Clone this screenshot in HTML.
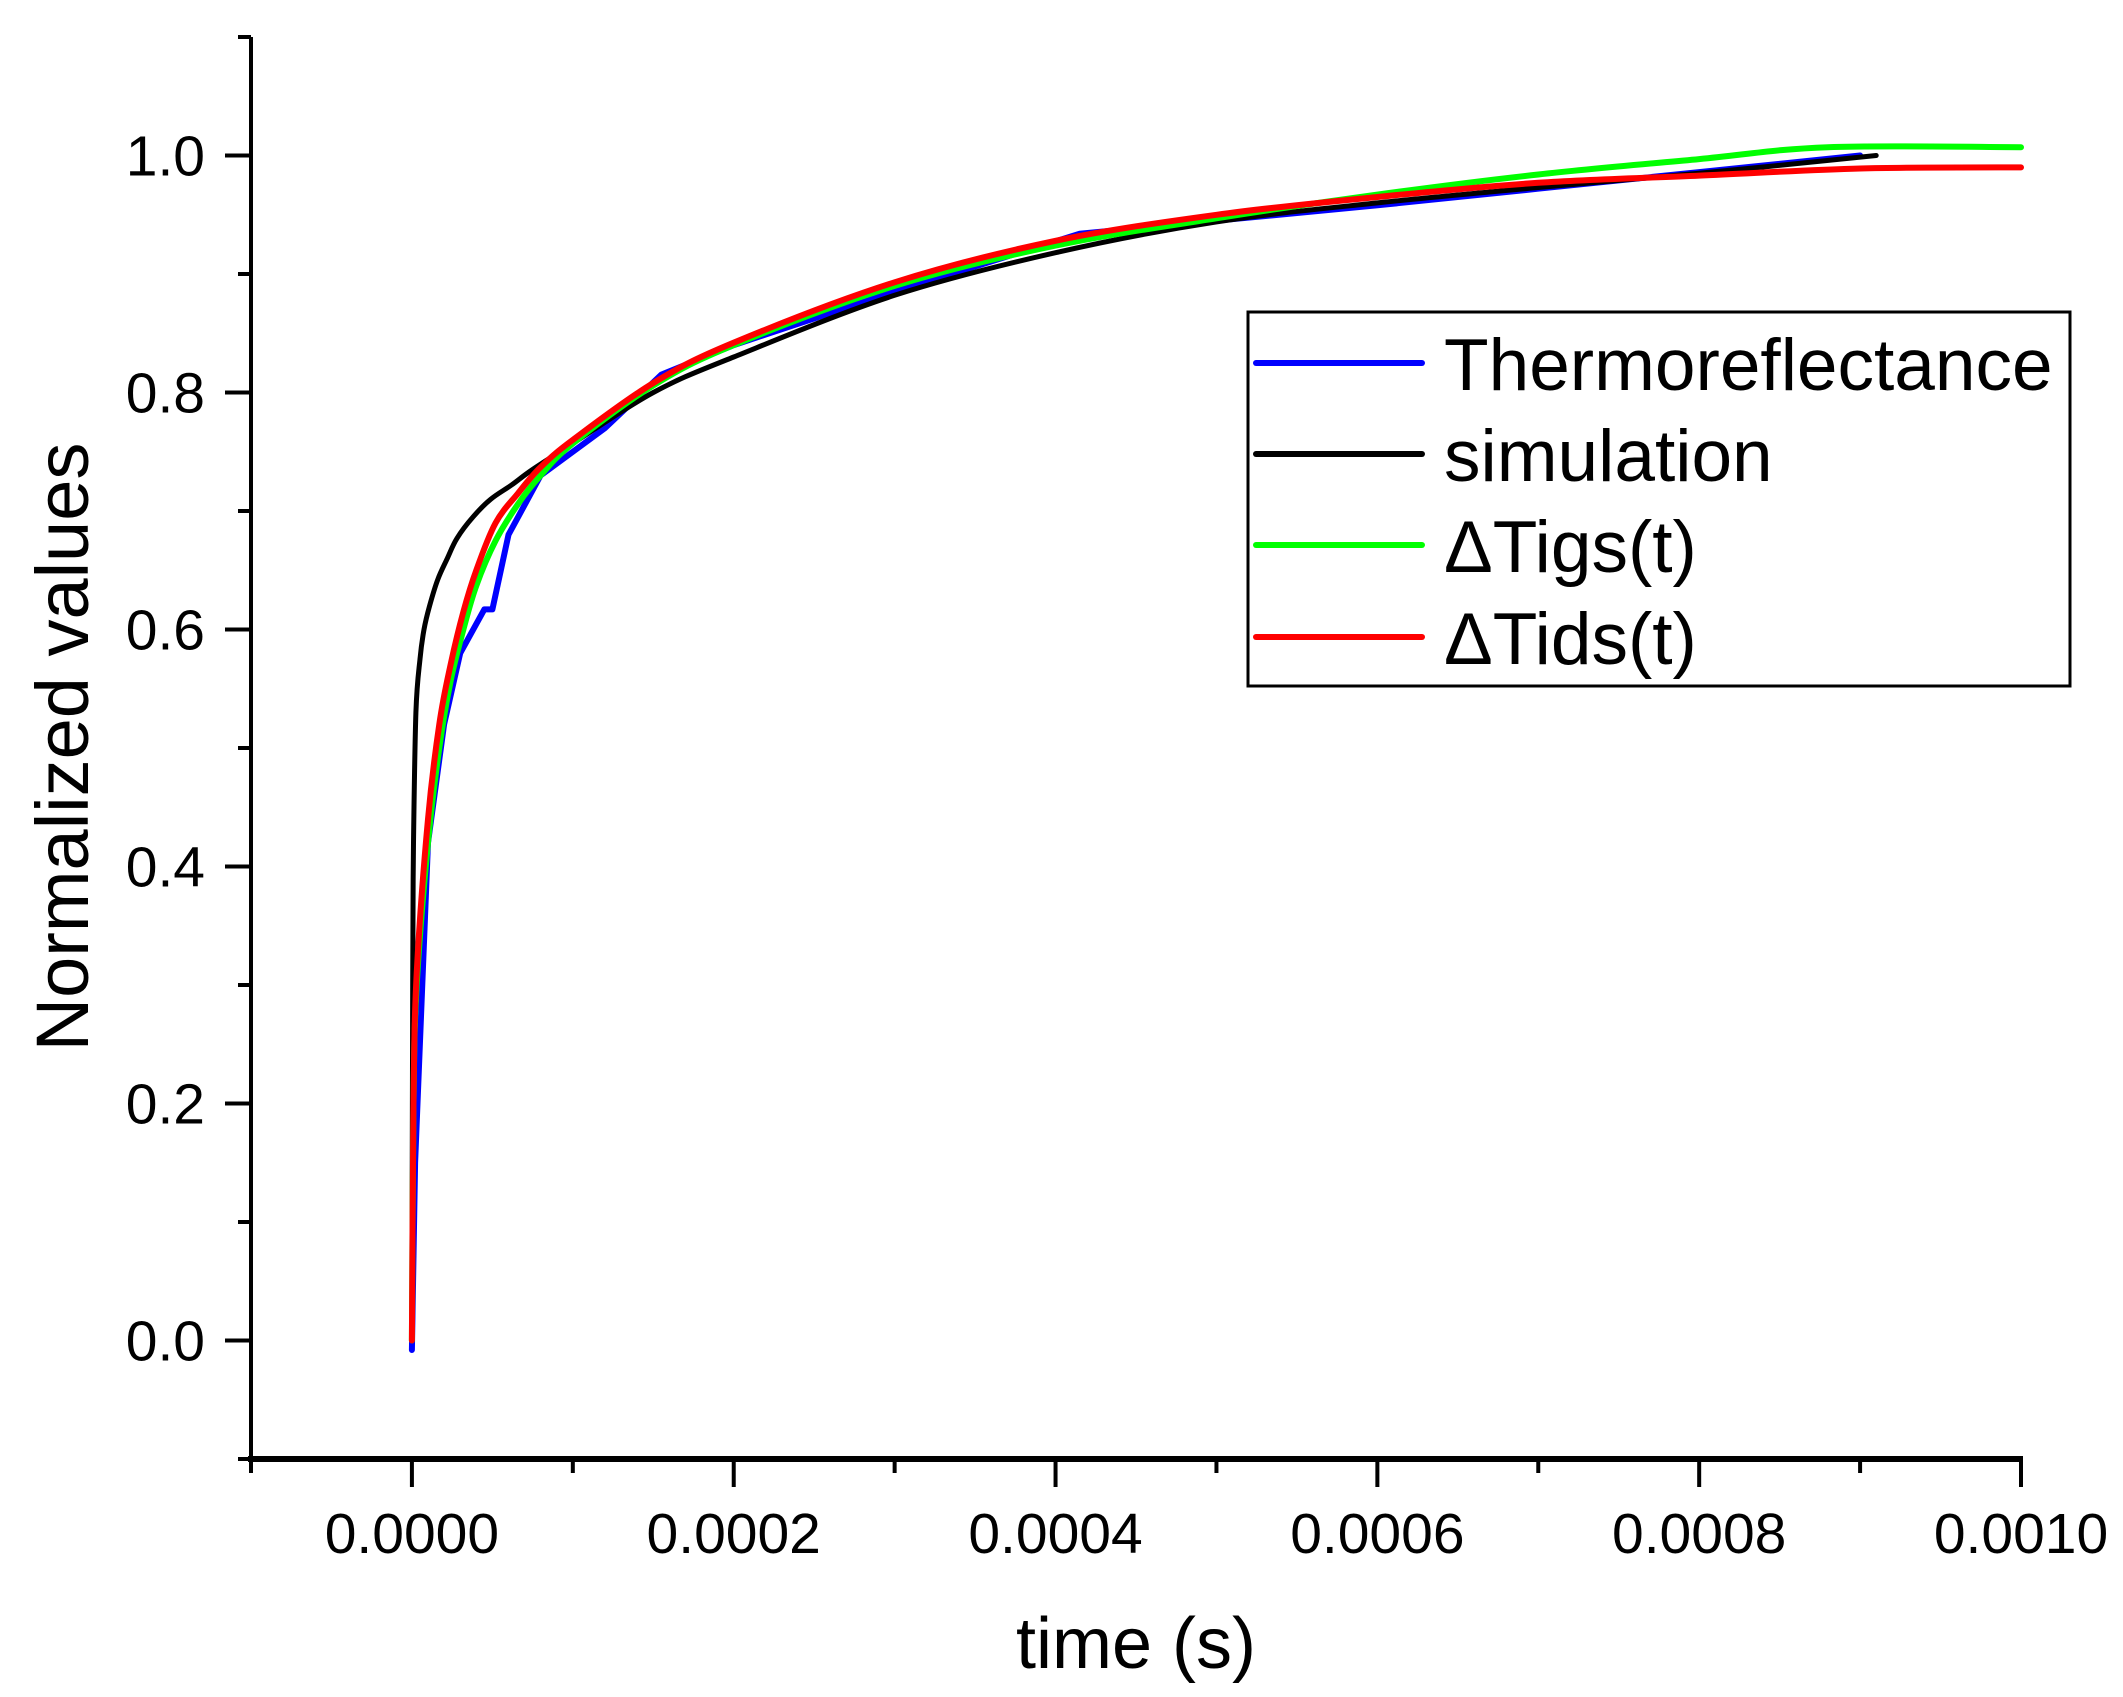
<!DOCTYPE html>
<html><head><meta charset="utf-8"><style>
html,body{margin:0;padding:0;background:#fff}
svg text{font-family:"Liberation Sans",Arial,sans-serif;fill:#000}
</style></head><body>
<svg id="chart" width="2123" height="1692" xmlns="http://www.w3.org/2000/svg">
<g id="plot"></g>
<g id="axes"></g>
<g id="legend"></g>
</svg>
<script>
const xTicks=[0,0.0002,0.0004,0.0006,0.0008,0.001];
const xTickLabels=["0.0000","0.0002","0.0004","0.0006","0.0008","0.0010"];
const yTicks=[0,0.2,0.4,0.6,0.8,1.0];
const yTickLabels=["0.0","0.2","0.4","0.6","0.8","1.0"];
const thermoT=[0,0.000002,0.00001,0.00002,0.00003,0.000045,0.00005,0.00006,0.00008,0.00012,0.000155,0.0002,0.0003,0.000415,0.0005,0.0006,0.0007,0.0008,0.0009];
const thermoV=[-0.008,0.15,0.42,0.52,0.58,0.617,0.617,0.68,0.73,0.77,0.815,0.84,0.885,0.934,0.945,0.958,0.972,0.986,1.0];
const simT=[0,0.0000005,0.000001,0.0000025,0.000005,0.0000075,0.000011,0.000016,0.000022,0.000028,0.000038,0.000049,0.000062,0.000075,0.0001,0.00015,0.0002,0.0003,0.0004,0.0005,0.0006,0.0007,0.0008,0.00091];
const simV=[0,0.3,0.42,0.53,0.575,0.6,0.62,0.642,0.66,0.677,0.695,0.71,0.722,0.735,0.757,0.8,0.83,0.882,0.918,0.944,0.96,0.973,0.985,1.0];
const igsT=[0,0.000001,0.000003,0.00001,0.000017,0.000024,0.000032,0.00004,0.000052,0.000066,0.00008,0.0001,0.00015,0.0002,0.0003,0.0004,0.0005,0.0006,0.0007,0.0008,0.00088,0.001];
const igsV=[0,0.2,0.3,0.42,0.5,0.556,0.6,0.637,0.675,0.706,0.73,0.757,0.806,0.84,0.89,0.924,0.947,0.967,0.984,0.997,1.007,1.007];
const idsT=[0,0.000001,0.000003,0.00001,0.000017,0.000024,0.000032,0.00004,0.000052,0.000066,0.00008,0.0001,0.00015,0.0002,0.0003,0.0004,0.0005,0.0006,0.0007,0.0008,0.0009,0.001];
const idsV=[0,0.2,0.31,0.44,0.52,0.57,0.615,0.65,0.69,0.715,0.737,0.76,0.808,0.842,0.893,0.928,0.95,0.965,0.977,0.983,0.989,0.99];

const L=251,R=2021,T=37,B=1459,xMin=-0.0001,xMax=0.001,yMin=-0.1,yMax=1.1;
const sx=v=>L+(v-xMin)/(xMax-xMin)*(R-L);
const sy=v=>B-(v-yMin)/(yMax-yMin)*(B-T);
const NS="http://www.w3.org/2000/svg";
function mk(tag,attrs,parent){const e=document.createElementNS(NS,tag);for(const k in attrs)e.setAttribute(k,attrs[k]);parent.appendChild(e);return e;}
const plot=document.getElementById('plot'),axes=document.getElementById('axes'),legend=document.getElementById('legend');

function linPath(P){return P.map((p,i)=>(i?'L':'M')+p[0].toFixed(1)+','+p[1].toFixed(1)).join('');}
function smoothPath(P){let d='M'+P[0][0].toFixed(1)+','+P[0][1].toFixed(1);
 for(let i=0;i<P.length-1;i++){const p0=P[Math.max(0,i-1)],p1=P[i],p2=P[i+1],p3=P[Math.min(P.length-1,i+2)];
  const c1=[p1[0]+(p2[0]-p0[0])/6,p1[1]+(p2[1]-p0[1])/6],c2=[p2[0]-(p3[0]-p1[0])/6,p2[1]-(p3[1]-p1[1])/6];
  d+='C'+c1.map(v=>v.toFixed(1)).join(',')+' '+c2.map(v=>v.toFixed(1)).join(',')+' '+p2[0].toFixed(1)+','+p2[1].toFixed(1);}
 return d;}

const series=[
 {t:thermoT,v:thermoV,c:"#0000ff",w:6,smooth:false,name:"thermoreflectance-line"},
 {t:simT,v:simV,c:"#000000",w:5,smooth:true,name:"simulation-line"},
 {t:igsT,v:igsV,c:"#00ff00",w:6,smooth:true,name:"delta-tigs-line"},
 {t:idsT,v:idsV,c:"#ff0000",w:6,smooth:true,name:"delta-tids-line"}];
series.forEach(s=>{
 const P=s.t.map((t,i)=>[sx(t),sy(s.v[i])]);
 const p=mk('path',{d:s.smooth?smoothPath(P):linPath(P),fill:'none',stroke:s.c,'stroke-width':s.w,'stroke-linejoin':'round','stroke-linecap':'round'},plot);
 
 
});

let a=mk('line',{x1:L,y1:T,x2:L,y2:B+3,stroke:'#000','stroke-width':4},axes);


a=mk('line',{x1:L-3,y1:B,x2:R+2,y2:B,stroke:'#000','stroke-width':6},axes);


for(let k=-1;k<=10;k++){const v=k*0.0001;const x=sx(v);const major=k%2===0;
 const tk=mk('line',{x1:x,y1:B,x2:x,y2:B+(major?28:14),stroke:'#000','stroke-width':4},axes);
 
 }
xTicks.forEach((v,i)=>{const t=mk('text',{x:sx(v),y:1553,'font-size':57,'text-anchor':'middle'},axes);t.textContent=xTickLabels[i];
 
 });
for(let k=-1;k<=11;k++){const v=k*0.1;const y=sy(v);const major=k%2===0;
 const tk=mk('line',{x1:L,y1:y,x2:L-(major?26:13),y2:y,stroke:'#000','stroke-width':4},axes);
 
 }
yTicks.forEach((v,i)=>{const t=mk('text',{x:205,y:sy(v)+20,'font-size':57,'text-anchor':'end'},axes);t.textContent=yTickLabels[i];
 
 });
let t=mk('text',{x:1136,y:1668,'font-size':72,'text-anchor':'middle'},axes);t.textContent="time (s)";


t=mk('text',{x:0,y:0,'font-size':74,'text-anchor':'middle',transform:'translate(88,747) rotate(-90)'},axes);t.textContent="Normalized values";



const lb=mk('rect',{x:1248,y:312,width:822,height:374,fill:'#fff',stroke:'#000','stroke-width':3},legend);


const labels=["Thermoreflectance","simulation","\u0394Tigs(t)","\u0394Tids(t)"];
const rowsY=[363,454,545,637];
series.forEach((s,i)=>{
 const ln=mk('line',{x1:1256,y1:rowsY[i],x2:1422,y2:rowsY[i],stroke:s.c,'stroke-width':6,'stroke-linecap':'round'},legend);
 
 
 const tx=mk('text',{x:1444,y:rowsY[i]+27,'font-size':73},legend);tx.textContent=labels[i];
 
 
});
</script>
</body></html>
